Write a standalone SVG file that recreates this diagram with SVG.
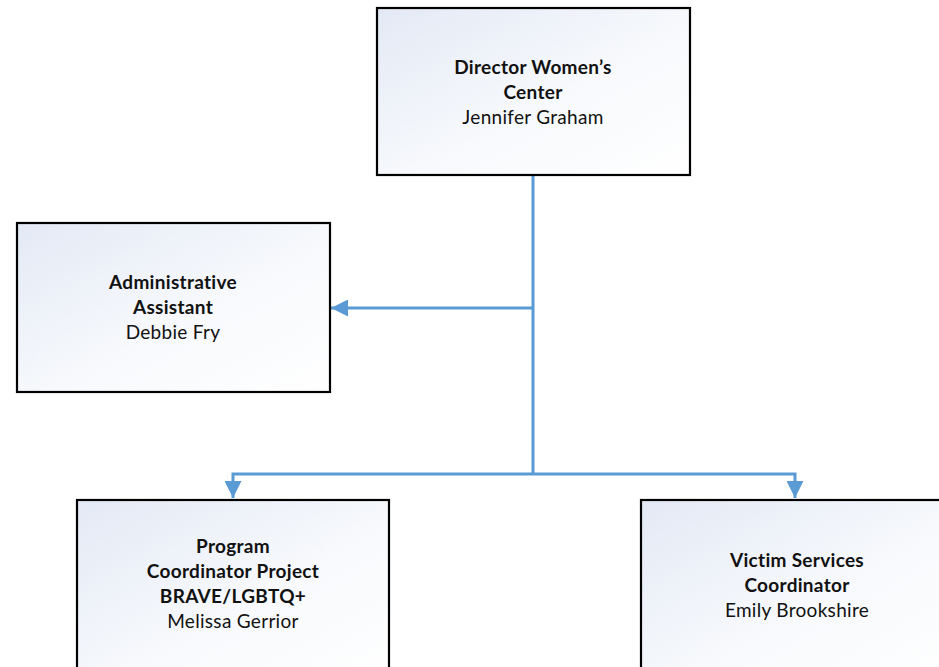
<svg xmlns="http://www.w3.org/2000/svg" width="939" height="667" viewBox="0 0 939 667">
<defs>
<linearGradient id="bg" x1="0" y1="0" x2="1" y2="1">
<stop offset="0" stop-color="#E3E9F5"/>
<stop offset="0.55" stop-color="#F7F9FC"/>
<stop offset="1" stop-color="#FFFFFF"/>
</linearGradient>
<marker id="ah" markerWidth="17" markerHeight="17" refX="17" refY="8.5" orient="auto" markerUnits="userSpaceOnUse">
<path d="M0,0 L17,8.5 L0,17 Z" fill="#5B9BD5"/>
</marker>
</defs>
<style>
.box{fill:url(#bg);stroke:#000;stroke-width:2.2}
.t{font-family:Lato,"Open Sans","Liberation Sans",sans-serif;font-size:19px;letter-spacing:0.3px;fill:#111;text-anchor:middle}
.b{font-weight:bold}
.c{fill:none;stroke:#5B9BD5;stroke-width:3}
</style>
<rect width="939" height="667" fill="#fff"/>
<g id="connectors">
<path class="c" d="M533,176 V474"/>
<path class="c" d="M533,308 H331" marker-end="url(#ah)"/>
<path class="c" d="M533,474 H233 V498" marker-end="url(#ah)"/>
<path class="c" d="M533,474 H795 V498" marker-end="url(#ah)"/>
</g>
<g id="director">
<rect class="box" x="377" y="8" width="313" height="167"/>
<text class="t b" x="533" y="74">Director Women’s</text>
<text class="t b" x="533" y="99">Center</text>
<text class="t" x="533" y="124">Jennifer Graham</text>
</g>
<g id="admin">
<rect class="box" x="17" y="223" width="313" height="169"/>
<text class="t b" x="173" y="289">Administrative</text>
<text class="t b" x="173" y="314">Assistant</text>
<text class="t" x="173" y="339">Debbie Fry</text>
</g>
<g id="program">
<rect class="box" x="77" y="500" width="312" height="180"/>
<text class="t b" x="233" y="553">Program</text>
<text class="t b" x="233" y="578">Coordinator Project</text>
<text class="t b" x="233" y="603">BRAVE/LGBTQ+</text>
<text class="t" x="233" y="628">Melissa Gerrior</text>
</g>
<g id="victim">
<rect class="box" x="641" y="500" width="312" height="180"/>
<text class="t b" x="797" y="567">Victim Services</text>
<text class="t b" x="797" y="592">Coordinator</text>
<text class="t" x="797" y="617">Emily Brookshire</text>
</g>
</svg>
